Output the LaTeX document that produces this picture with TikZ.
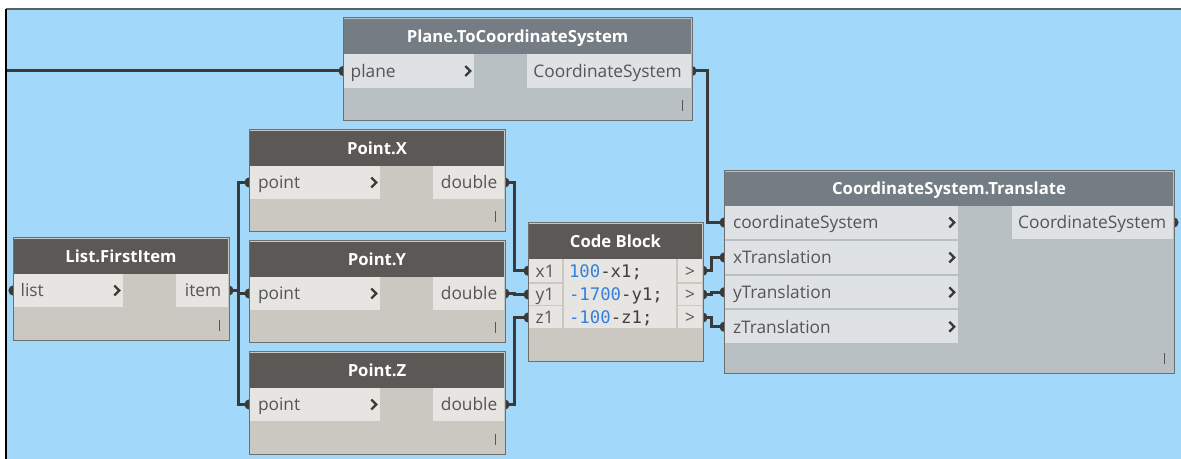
\documentclass[tikz,border=0pt]{standalone}
\usepackage{fontspec}
\setmainfont{Open Sans}
\setmonofont{DejaVu Sans Mono}
\usetikzlibrary{backgrounds, fit, positioning, calc}
\definecolor{canvas}{RGB}{162,216,250}
\definecolor{edgec}{RGB}{90,95,100}
\definecolor{wirec}{RGB}{58,58,58}
\definecolor{framec}{RGB}{110,110,110}
\definecolor{hdblue}{RGB}{116,125,131}
\definecolor{bdblue}{RGB}{185,192,195}
\definecolor{ptblue}{RGB}{222,226,228}
\definecolor{hdgray}{RGB}{91,88,86}
\definecolor{bdgray}{RGB}{203,199,193}
\definecolor{ptgray}{RGB}{231,229,225}
\definecolor{txtc}{RGB}{85,85,85}
\definecolor{numc}{RGB}{50,128,224}
\definecolor{codec}{RGB}{62,62,62}
\tikzset{
  bodyb/.style = {draw=framec, fill=bdblue, line width=0.75pt, inner sep=0pt},
  bodyg/.style = {draw=framec, fill=bdgray, line width=0.75pt, inner sep=0pt},
  headb/.style = {fill=hdblue, inner sep=0pt},
  headg/.style = {fill=hdgray, inner sep=0pt},
  portb/.style = {fill=ptblue, inner sep=0pt},
  portg/.style = {fill=ptgray, inner sep=0pt},
  ttl/.style = {text=white, font=\fontsize{12.5}{14}\selectfont\bfseries,
    inner sep=0pt, text height=8.6pt, text depth=0pt},
  lbl/.style = {text=txtc, font=\fontsize{13}{15}\selectfont,
    inner sep=0pt, text height=9.6pt, text depth=0pt},
  code/.style = {text=codec, font=\ttfamily\fontsize{13}{15}\selectfont,
    inner sep=0pt, text height=9.5pt, text depth=0pt, anchor=west},
  wire/.style = {draw=wirec, line width=2.25pt},
  chev/.style = {draw=wirec, line width=1.8pt},
  tick/.style = {draw=txtc, line width=0.9pt}
}

\begin{document}
\begin{tikzpicture}[x=0.75pt, y=-0.75pt]
  \useasboundingbox (0,0) rectangle (1181,459);

  % nodes
  \node[bodyb, fit={(343,18) (692,121)}] (ptc) {};
  \node[headb, fit={(344,19) (691,54)}] (ptc-h) {};
  \node[portb, fit={(344,54) (474,88)}] (ptc-in) {};
  \node[portb, fit={(527,54) (691,88)}] (ptc-out) {};
  \node[ttl] (ptc-t) at (ptc-h) {Plane.ToCoordinateSystem};
  \node[lbl, right=5pt of ptc-in.west] (ptc-in-l) {plane};
  \node[lbl, left=7pt of ptc-out.east] (ptc-out-l) {CoordinateSystem};

  \node[bodyg, fit={(13,238) (229,341)}] (lfi) {};
  \node[headg, fit={(14,239) (228,274)}] (lfi-h) {};
  \node[portg, fit={(14,274) (123,307)}] (lfi-in) {};
  \node[portg, fit={(176,274) (228,307)}] (lfi-out) {};
  \node[ttl] (lfi-t) at (lfi-h) {List.FirstItem};
  \node[lbl, right=5pt of lfi-in.west] (lfi-in-l) {list};
  \node[lbl, left=5pt of lfi-out.east] (lfi-out-l) {item};

  \foreach \n/\t/\y in {px/Point.X/130, py/Point.Y/241, pz/Point.Z/352} {
    \node[bodyg, fit={(249,\y) (505,\y+102)}] (\n) {};
    \node[headg, fit={(250,\y+1) (504,\y+36)}] (\n-h) {};
    \node[portg, fit={(250,\y+36) (380,\y+69)}] (\n-in) {};
    \node[portg, fit={(433,\y+36) (504,\y+69)}] (\n-out) {};
    \node[ttl] (\n-t) at (\n-h) {\t};
    \node[lbl, right=6pt of \n-in.west] (\n-in-l) {point};
    \node[lbl, left=5pt of \n-out.east] (\n-out-l) {double};
  }

  \node[bodyg, fit={(528,223) (703,362)}] (cb) {};
  \node[headg, fit={(529,224) (702,259)}] (cb-h) {};
  \node[ttl] (cb-t) at (cb-h) {Code Block};
  \node[portg, fit={(529,259) (562,282.5)}] (cb-x) {};
  \node[portg, fit={(529,284) (562,305)}] (cb-y) {};
  \node[portg, fit={(529,306.5) (562,328.5)}] (cb-z) {};
  \node[portg, fit={(564,259) (676,328.5)}] (cb-code) {};
  \node[portg, fit={(678,259) (702,282.5)}] (cb-ox) {};
  \node[portg, fit={(678,284) (702,305)}] (cb-oy) {};
  \node[portg, fit={(678,306.5) (702,328.5)}] (cb-oz) {};
  \foreach \p/\v in {x/x1, y/y1, z/z1} {
    \node[lbl, right=5pt of cb-\p.west] (cb-\p-l) {\v};
    \node[lbl] (cb-o\p-l) at (cb-o\p) {>};
  }
  \node[code] (cb-c1) at ($(cb-code.west |- cb-x)+(5,0)$) {\textcolor{numc}{100}-x1;};
  \node[code] (cb-c2) at ($(cb-code.west |- cb-y)+(5,0)$) {\textcolor{numc}{-1700}-y1;};
  \node[code] (cb-c3) at ($(cb-code.west |- cb-z)+(5,0)$) {\textcolor{numc}{-100}-z1;};

  \node[bodyb, fit={(724,171) (1174,374)}] (cst) {};
  \node[headb, fit={(725,172) (1173,206)}] (cst-h) {};
  \node[ttl] (cst-t) at (cst-h) {CoordinateSystem.Translate};
  \node[portb, fit={(725,206) (958,239)}] (cst-a) {};
  \node[portb, fit={(725,241) (958,274)}] (cst-b) {};
  \node[portb, fit={(725,276) (958,308.5)}] (cst-c) {};
  \node[portb, fit={(725,310.5) (958,343)}] (cst-d) {};
  \node[portb, fit={(1012,206) (1173,239)}] (cst-out) {};
  \node[lbl, right=6pt of cst-a.west] (cst-a-l) {coordinateSystem};
  \node[lbl, right=6pt of cst-b.west] (cst-b-l) {xTranslation};
  \node[lbl, right=6pt of cst-c.west] (cst-c-l) {yTranslation};
  \node[lbl, right=6pt of cst-d.west] (cst-d-l) {zTranslation};
  \node[lbl, left=5pt of cst-out.east] (cst-out-l) {CoordinateSystem};

  % chevrons and corner ticks
  \foreach \p in {ptc-in, lfi-in, px-in, py-in, pz-in, cst-a, cst-b, cst-c, cst-d}
    \draw[chev] ($(\p.east)+(-9,-5)$) -- ++(5,5) -- ++(-5,5);
  \foreach \n in {ptc, lfi, px, py, pz, cst}
    \draw[tick] ($(\n.south east)+(-10,-21)$) -- ++(0,11);

  % canvas, wires and port ends
  \begin{scope}[on background layer]
    \fill[white] (0,0) rectangle (1181,459);
    \fill[canvas] (6,9) rectangle (1181,459);
    \draw[edgec, line width=1.5pt] (6,9) -- (1181,9);
    \draw[black, line width=1pt] (6,9) -- (6,459);
    \coordinate (lin) at (7,71);

    \draw[wire] (lin) -- (ptc-in.west);
    \draw[wire] (ptc-out.east) -- ++(16,0) |- (cst-a.west);
    \draw[wire] (lfi-out.east) -- ++(10,0) coordinate (bus) |- (px-in.west);
    \draw[wire] (bus) |- (py-in.west);
    \draw[wire] (bus) |- (pz-in.west);
    \draw[wire] (px-out.east) -- ++(10,0) |- (cb-x.west);
    \draw[wire] (py-out.east) -- ++(10,0) |- (cb-y.west);
    \draw[wire] (pz-out.east) -- ++(10,0) |- (cb-z.west);
    \draw[wire] (cb-ox.east) -- ++(9,0) |- (cst-b.west);
    \draw[wire] (cb-oy.east) -- ++(9,0) |- (cst-c.west);
    \draw[wire] (cb-oz.east) -- ++(9,0) |- (cst-d.west);

    \foreach \p in {ptc-in, lfi-in, px-in, py-in, pz-in, cb-x, cb-y, cb-z,
        cst-a, cst-b, cst-c, cst-d}
      \fill[wirec] (\p.west) circle[radius=4pt];
    \foreach \p in {ptc-out, lfi-out, px-out, py-out, pz-out, cb-ox, cb-oy,
        cb-oz, cst-out}
      \fill[wirec] (\p.east) circle[radius=4pt];
  \end{scope}
\end{tikzpicture}
\end{document}
